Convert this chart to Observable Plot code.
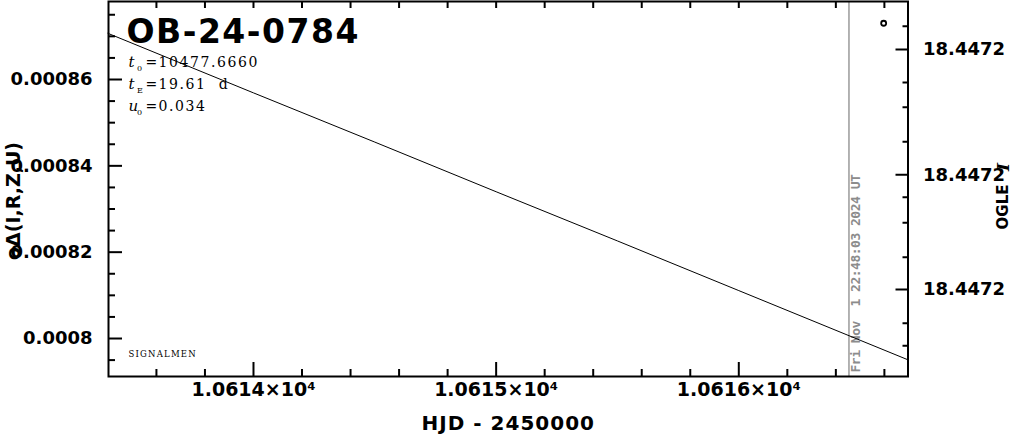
<!DOCTYPE html>
<html><head><meta charset="utf-8">
<script src="https://cdn.jsdelivr.net/npm/d3@7"></script>
<script src="https://cdn.jsdelivr.net/npm/@observablehq/plot@0.6"></script>
<style>
html,body{margin:0;padding:0;background:#fff;}
svg text, svg tspan{white-space:pre;}
</style></head><body><div id="chart"></div>
<script>
// ---- data ----
const modelHJD   = [10613.40, 10614.0, 10614.5, 10615.0, 10615.5, 10616.0, 10616.5, 10616.70];
const modelDelta = [0.0008707, 0.0008569, 0.0008455, 0.0008340, 0.0008226, 0.0008111, 0.0007996, 0.0007950];
const obsHJD = [10616.597];
const obsMag = [18.4471829];
const eventHJD = [10616.454];
const eventLabel = ["Fri Nov  1 22:48:03 2024 UT"];

const xMajor = [10614, 10615, 10616];
const xLabels = ["1.0614×10⁴", "1.0615×10⁴", "1.0616×10⁴"];
const xMinor = [10613.6, 10613.8, 10614.2, 10614.4, 10614.6, 10614.8, 10615.2, 10615.4, 10615.6, 10615.8, 10616.2, 10616.4, 10616.6];
const yMajor = [0.0008, 0.00082, 0.00084, 0.00086];
const yLabels = ["0.0008", "0.00082", "0.00084", "0.00086"];
const yMinor = [0.000795, 0.000805, 0.00081, 0.000815, 0.000825, 0.00083, 0.000835, 0.000845, 0.00085, 0.000855, 0.000865, 0.00087, 0.000875];
const magMajor = [18.4471864, 18.4472031, 18.4472184];
const magLabels = ["18.4472", "18.4472", "18.4472"];
const magMinor = [18.4471833, 18.4471908, 18.4471941, 18.4471987, 18.4472061, 18.4472095, 18.4472141, 18.4472229, 18.4472259];

const xDomain = [10613.4025, 10616.6973];
const yDomain = [0.0007912, 0.00087807];
const magBottom = 18.44723, magTop = 18.44718;

const title = "OB-24-0784";
const paramSym = ["t", "t", "u"];
const paramSub = ["0", "E", "0"];
const paramVal = ["10477.6660", "19.61  d", "0.034"];
const credit = "SIGNALMEN";
const xTitle = "HJD - 2450000";
const yTitle = "oΔ(I,R,Z,U)";
const y2Title = "OGLE";
const y2TitleBand = "I";

// ---- build ----
const magToY = m => yDomain[0] + (m - magBottom) / (magTop - magBottom) * (yDomain[1] - yDomain[0]);

const serif = "DejaVu Serif";
const sans = "DejaVu Sans";
const noText = () => "";
const paramMarks = [];
paramSym.forEach((s, i) => {
  const dy = 61 + 22 * i;
  const base = {frameAnchor: "top-left", textAnchor: "start", lineAnchor: "middle", fill: "black", fontFamily: serif};
  paramMarks.push(
    Plot.text([s], {...base, dx: 20, dy, fontStyle: "italic", fontSize: 15}),
    Plot.text([paramSub[i]], {...base, dx: 28.5, dy: dy + 6, fontSize: 8}),
    Plot.text(["="], {...base, dx: 37, dy, fontSize: 14}),
    Plot.text([paramVal[i]], {...base, dx: 50, dy, fontSize: 14})
  );
});

const tickOpts = {tickFormat: noText, label: null, strokeWidth: 2};
const chart = Plot.plot({
  width: 1011, height: 434,
  marginLeft: 108, marginRight: 103.5, marginTop: 1, marginBottom: 58,
  style: {fontFamily: sans, background: "white", color: "black", overflow: "visible"},
  x: {domain: xDomain},
  y: {domain: yDomain},
  marks: [
    Plot.ruleX(eventHJD, {stroke: "#9a9a9a", strokeWidth: 1.5}),
    Plot.text(eventHJD, {x: d => d, frameAnchor: "bottom", text: () => eventLabel[0], rotate: -90, textAnchor: "start", lineAnchor: "top", dx: 2, dy: -4, fontFamily: "DejaVu Sans Mono", fontWeight: "bold", fontSize: 13, fill: "#8c8c8c"}),
    Plot.line(modelHJD.map((h, i) => ({h, v: modelDelta[i]})), {x: "h", y: "v", stroke: "black", strokeWidth: 1}),
    Plot.dot(obsHJD.map((h, i) => ({h, m: obsMag[i]})), {x: "h", y: d => magToY(d.m), r: 2.5, stroke: "black", strokeWidth: 1.8, fill: "none"}),
    // ticks (inward)
    Plot.axisX(xMajor, {anchor: "bottom", tickSize: -14, ...tickOpts}),
    Plot.axisX(xMinor, {anchor: "bottom", tickSize: -7, ...tickOpts}),
    Plot.axisX(xMajor, {anchor: "top", tickSize: -6, ...tickOpts}),
    Plot.axisX(xMinor, {anchor: "top", tickSize: -6, ...tickOpts}),
    Plot.axisY(yMajor, {anchor: "left", tickSize: -14, ...tickOpts}),
    Plot.axisY(yMinor, {anchor: "left", tickSize: -7, ...tickOpts}),
    Plot.axisY(magMajor.map(magToY), {anchor: "right", tickSize: -13, ...tickOpts}),
    Plot.axisY(magMinor.map(magToY), {anchor: "right", tickSize: -6, ...tickOpts}),
    // tick labels
    Plot.axisX(xMajor, {anchor: "bottom", tickSize: 0, tickPadding: 6, tickFormat: (d, i) => xLabels[i], label: null, fontSize: 19, fontWeight: "bold", fontFamily: sans}),
    Plot.axisY(yMajor, {anchor: "left", tickSize: 0, tickPadding: 16, tickFormat: (d, i) => yLabels[i], label: null, fontSize: 18, fontWeight: "bold", fontFamily: sans}),
    Plot.axisY(magMajor.map(magToY), {anchor: "right", tickSize: 0, tickPadding: 15, tickFormat: (d, i) => magLabels[i], label: null, fontSize: 18, fontWeight: "bold", fontFamily: sans}),
    // axis titles
    Plot.text([xTitle], {frameAnchor: "bottom", dy: 47.5, lineAnchor: "middle", textAnchor: "middle", fontSize: 20, fontWeight: "bold", fontFamily: sans, fill: "black"}),
    Plot.text([yTitle], {frameAnchor: "left", dx: -95, dy: 12, rotate: -90, textAnchor: "middle", lineAnchor: "middle", fontSize: 19, fontWeight: "bold", fontFamily: sans, fill: "black"}),
    Plot.text([y2Title], {frameAnchor: "right", dx: 95.5, dy: 18, rotate: -90, textAnchor: "middle", lineAnchor: "middle", fontSize: 15, fontWeight: "bold", fontFamily: sans, fill: "black"}),
    Plot.text([y2TitleBand], {frameAnchor: "right", dx: 95.5, dy: -22, rotate: -90, textAnchor: "middle", lineAnchor: "middle", fontSize: 17, fontWeight: "bold", fontStyle: "italic", fontFamily: serif, fill: "black"}),
    // annotations
    Plot.text([title], {frameAnchor: "top-left", dx: 18, dy: 31, textAnchor: "start", lineAnchor: "middle", fontSize: 33, fontWeight: "bold", fontFamily: sans, fill: "black"}),
    ...paramMarks,
    Plot.text([credit], {frameAnchor: "bottom-left", dx: 20, dy: -22, textAnchor: "start", lineAnchor: "middle", fontSize: 8.5, fontFamily: serif, fill: "black"}),
    Plot.frame({stroke: "black", strokeWidth: 2})
  ]
});

chart.querySelectorAll("text").forEach(t => { if (t.textContent === "") t.remove(); });
const spacing = {"OB-24-0784": "1.5px", "10477.6660": "1.6px", "19.61  d": "1.6px", "0.034": "1.6px", "SIGNALMEN": "1.2px", "HJD - 2450000": "1px", "Fri Nov  1 22:48:03 2024 UT": "-0.5px"};
chart.querySelectorAll("text").forEach(t => {
  const s = spacing[t.textContent];
  if (s) t.style.letterSpacing = s;
});
document.getElementById("chart").appendChild(chart);
</script>
</body></html>
